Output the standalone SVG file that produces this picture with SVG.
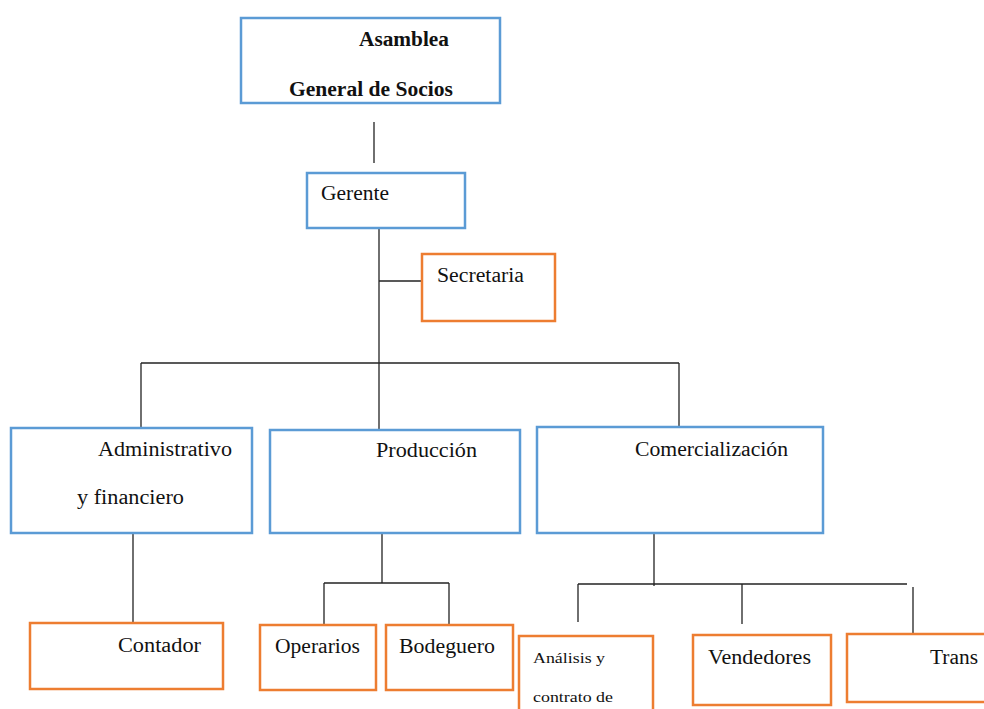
<svg xmlns="http://www.w3.org/2000/svg" width="984" height="709" viewBox="0 0 984 709">
<style>
.blue{fill:#fff;stroke:#5B9BD5;stroke-width:2.5}
.orange{fill:#fff;stroke:#ED7D31;stroke-width:2.5}
.t{font-family:"Liberation Serif","Times New Roman",serif;font-size:20px;fill:#111}
.b{font-weight:bold}
.s{font-size:15.5px}
#connectors line{stroke:#222;stroke-width:1.3}
</style>
<rect width="984" height="709" fill="#fff"/>
<g id="connectors">
<line x1="374" y1="122" x2="374" y2="163"/>
<line x1="379" y1="228" x2="379" y2="363"/>
<line x1="379" y1="281" x2="422" y2="281"/>
<line x1="141" y1="363" x2="679" y2="363"/>
<line x1="141" y1="363" x2="141" y2="428"/>
<line x1="379" y1="363" x2="379" y2="430"/>
<line x1="679" y1="363" x2="679" y2="427"/>
<line x1="133" y1="533" x2="133" y2="623"/>
<line x1="382" y1="533" x2="382" y2="583"/>
<line x1="324" y1="583" x2="449" y2="583"/>
<line x1="324" y1="583" x2="324" y2="625"/>
<line x1="449" y1="583" x2="449" y2="625"/>
<line x1="654" y1="533" x2="654" y2="586"/>
<line x1="578" y1="584" x2="907" y2="584"/>
<line x1="578" y1="584" x2="578" y2="622"/>
<line x1="742" y1="584" x2="742" y2="624"/>
<line x1="913" y1="587" x2="913" y2="634"/>
</g>
<g id="asamblea">
<rect class="blue" x="241" y="18" width="259" height="85"/>
<text class="t b" x="359" y="46" font-size="20.5" textLength="90" lengthAdjust="spacingAndGlyphs">Asamblea</text>
<text class="t b" x="289" y="96" font-size="20.5" textLength="164" lengthAdjust="spacingAndGlyphs">General de Socios</text>
</g>
<g id="gerente">
<rect class="blue" x="307" y="173" width="158" height="55"/>
<text class="t" x="321" y="200" textLength="68" lengthAdjust="spacingAndGlyphs">Gerente</text>
</g>
<g id="secretaria">
<rect class="orange" x="422" y="254" width="133" height="67"/>
<text class="t" x="437" y="282" textLength="87" lengthAdjust="spacingAndGlyphs">Secretaria</text>
</g>
<g id="administrativo">
<rect class="blue" x="11" y="428" width="241" height="105"/>
<text class="t" x="98" y="456" textLength="134" lengthAdjust="spacingAndGlyphs">Administrativo</text>
<text class="t" x="77" y="504" textLength="107" lengthAdjust="spacingAndGlyphs">y financiero</text>
</g>
<g id="produccion">
<rect class="blue" x="270" y="430" width="250" height="103"/>
<text class="t" x="376" y="457" textLength="101" lengthAdjust="spacingAndGlyphs">Producción</text>
</g>
<g id="comercializacion">
<rect class="blue" x="537" y="427" width="286" height="106"/>
<text class="t" x="635" y="456" textLength="153" lengthAdjust="spacingAndGlyphs">Comercialización</text>
</g>
<g id="contador">
<rect class="orange" x="30" y="623" width="193" height="66"/>
<text class="t" x="118" y="652" textLength="83" lengthAdjust="spacingAndGlyphs">Contador</text>
</g>
<g id="operarios">
<rect class="orange" x="260" y="625" width="116" height="65"/>
<text class="t" x="275" y="653" textLength="85" lengthAdjust="spacingAndGlyphs">Operarios</text>
</g>
<g id="bodeguero">
<rect class="orange" x="386" y="625" width="127" height="65"/>
<text class="t" x="399" y="653" textLength="96" lengthAdjust="spacingAndGlyphs">Bodeguero</text>
</g>
<g id="analisis">
<rect class="orange" x="519" y="636" width="134" height="90"/>
<text class="t s" x="533" y="663" textLength="72" lengthAdjust="spacingAndGlyphs">Análisis y</text>
<text class="t s" x="533" y="702" textLength="80" lengthAdjust="spacingAndGlyphs">contrato de</text>
</g>
<g id="vendedores">
<rect class="orange" x="693" y="635" width="138" height="70"/>
<text class="t" x="708" y="664" textLength="103" lengthAdjust="spacingAndGlyphs">Vendedores</text>
</g>
<g id="trans">
<rect class="orange" x="847" y="634" width="160" height="68"/>
<text class="t" x="930" y="664" textLength="48" lengthAdjust="spacingAndGlyphs">Trans</text>
</g>
</svg>
